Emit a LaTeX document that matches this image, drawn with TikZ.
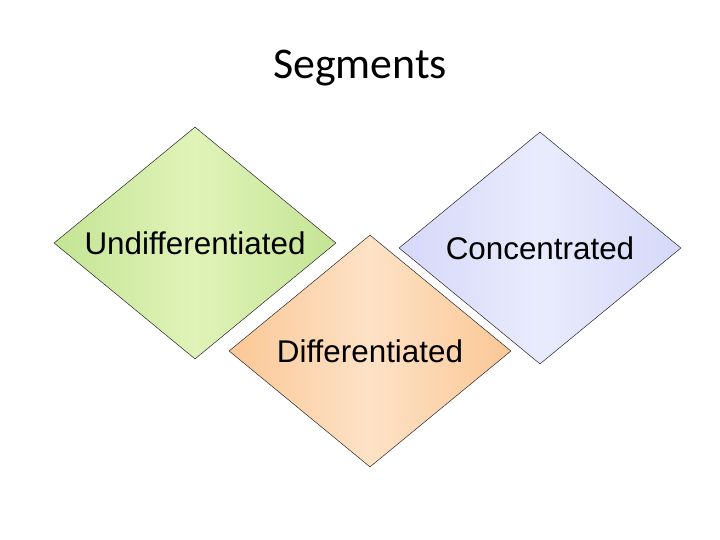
\documentclass[tikz,border=0pt]{standalone}
\usepackage{fontspec}
\setmainfont[Ligatures=NoCommon]{Liberation Sans}
\newfontfamily\titlefont{Carlito}
\usetikzlibrary{shapes.geometric}

\definecolor{grnedge}{HTML}{C4E494}
\definecolor{grnmid}{HTML}{E0F3B8}
\definecolor{orgedge}{HTML}{FBC795}
\definecolor{orgmid}{HTML}{FDE2C6}
\definecolor{bluedge}{HTML}{D5D8F8}
\definecolor{blumid}{HTML}{E9EBFD}

\tikzset{
 segbox/.style={diamond, draw=black!85, line width=0.5pt, inner sep=0pt,
  aspect=1.216, minimum width=282bp, minimum height=232bp,
  font=\fontsize{31.5}{36}\selectfont},
}

\begin{document}
\begin{tikzpicture}[x=1bp, y=-1bp]
 \useasboundingbox (0,0) rectangle (720,540);
 \node (title) at (360,68) {\titlefont\fontsize{44}{50}\selectfont Segments};
 \node[segbox, left color=grnedge, right color=grnedge, middle color=grnmid] (undiff) at (195,243) {Undifferentiated};
 \node[segbox, left color=bluedge, right color=bluedge, middle color=blumid] (conc) at (540,248) {Concentrated};
 \node[segbox, left color=orgedge, right color=orgedge, middle color=orgmid] (diff) at (370,351) {Differentiated};
\end{tikzpicture}
\end{document}
